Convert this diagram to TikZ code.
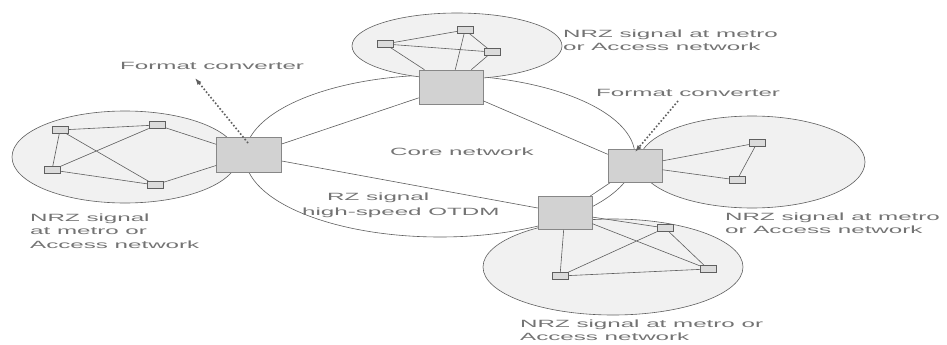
\documentclass[tikz,border=0pt]{standalone}
\usepackage{fontspec}
\usetikzlibrary{arrows.meta}
\newfontfamily\lab[FakeStretch=2.3]{Liberation Sans}
\definecolor{txt}{RGB}{115,115,115}
\definecolor{ln}{RGB}{95,95,95}
\definecolor{boxfill}{RGB}{210,210,210}
\definecolor{netfill}{RGB}{241,241,241}
\begin{document}
\begin{tikzpicture}[x=1pt,y=-1pt,
  conv/.style={draw=ln!75,fill=boxfill,line width=0.6pt,inner sep=0pt},
  sw/.style={draw=ln,fill=boxfill!80,line width=0.5pt,minimum width=16pt,minimum height=7pt,inner sep=0pt},
  link/.style={draw=ln,line width=0.6pt},
  net/.style={draw=ln,fill=netfill,line width=0.6pt},
  lbl/.style={font=\lab\fontsize{10.5}{13.5}\selectfont,text=txt,inner sep=0pt,align=left,anchor=west},
  ptr/.style={draw=ln,line width=1.6pt,dotted}
]
\useasboundingbox (0,0) rectangle (947,345);
\fill[white] (0,0) rectangle (947,345);
% core network
\draw[draw=ln,line width=0.6pt] (440,156) ellipse [x radius=195,y radius=81];
% access networks
\draw[net] (125,157) ellipse [x radius=113,y radius=46];
\draw[net] (457,46) ellipse [x radius=105,y radius=33];
\draw[net] (752,162) ellipse [x radius=113,y radius=46];
\draw[net] (613,267) ellipse [x radius=130,y radius=48];
% converters
\node[conv,minimum width=65pt,minimum height=35pt] (L) at (249,155) {};
\node[conv,minimum width=64pt,minimum height=34pt] (T) at (451,87) {};
\node[conv,minimum width=54pt,minimum height=33pt] (R) at (635,166) {};
\node[conv,minimum width=54pt,minimum height=33pt] (B) at (565,213) {};
% small switches
\node[sw] (a1) at (60,130) {};
\node[sw] (a2) at (157,125) {};
\node[sw] (a3) at (52,170) {};
\node[sw] (a4) at (155,185) {};
\node[sw] (t1) at (385,44) {};
\node[sw] (t2) at (465,30) {};
\node[sw] (t3) at (492,52) {};
\node[sw] (r1) at (757,143) {};
\node[sw] (r2) at (737,180) {};
\node[sw] (b1) at (665,228) {};
\node[sw] (b2) at (708,269) {};
\node[sw] (b3) at (560,276) {};
% links
\path[link] (a1) -- (a3) (a1) -- (a2) (a1) -- (a4) (a3) -- (a2) (a3) -- (a4) (a2) -- (L) (a4) -- (L);
\path[link] (t1) -- (t2) (t1) -- (t3) (t2) -- (t3) (t2) -- (T) (t1) -- (T) (t3) -- (T);
\path[link] (r1) -- (r2) (R) -- (r1) (R) -- (r2);
\path[link] (b1) -- (b2) (b3) -- (b1) (b3) -- (b2) (B) -- (b1) (B) -- (b2) (B) -- (b3);
\path[link] (L) -- (T) (T) -- (R) (L) -- (B) (B) -- (R);
% labels
\node[lbl] (fcl) at (120,66) {Format converter};
\node[lbl] (fcr) at (596,93) {Format converter};
\node[lbl] (core) at (390,152) {Core network};
\node[lbl] (rz) at (327,198) {RZ signal};
\node[lbl] (hs) at (302,213) {high-speed OTDM};
\node[lbl] (nt) at (563,40) {NRZ signal at metro\\or Access network};
\node[lbl] (nl) at (30,231) {NRZ signal\\at metro or\\Access network};
\node[lbl] (nr) at (725,223) {NRZ signal at metro\\or Access network};
\node[lbl] (nb) at (520,330) {NRZ signal at metro or\\Access network};
% pointers
\coordinate (pl) at (195,78);
\coordinate (pr) at (678,101);
\coordinate (plt) at (248,143);
\coordinate (prh) at (635,152);
\draw[ptr,-{Latex[length=7pt,width=5pt]}] (plt) -- (pl);
\draw[ptr,-{Latex[length=7pt,width=5pt]}] (pr) -- (prh);
\end{tikzpicture}
\end{document}
